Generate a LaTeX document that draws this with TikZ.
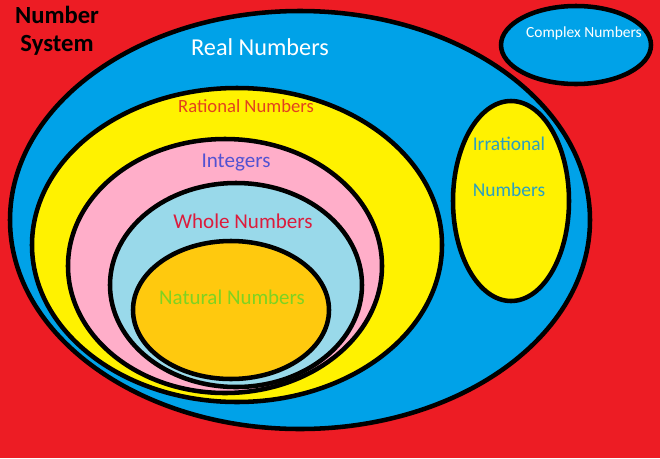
\documentclass[tikz,border=0pt]{standalone}
\usepackage{fontspec}
\setmainfont{Carlito}
\definecolor{bgred}{HTML}{ED1C24}
\definecolor{realblue}{HTML}{00A2E8}
\definecolor{ratyellow}{HTML}{FFF200}
\definecolor{intpink}{HTML}{FFAEC9}
\definecolor{wholeblue}{HTML}{99D9EA}
\definecolor{natorange}{HTML}{FFC90E}
\definecolor{rattext}{HTML}{E2421E}
\definecolor{inttext}{HTML}{5252D2}
\definecolor{wholetext}{HTML}{DC1C3C}
\definecolor{nattext}{HTML}{7ED321}
\definecolor{irrtext}{HTML}{2A9FC0}
\tikzset{
  numset/.style={draw=black,line width=3.4pt},
  setlabel/.style={inner sep=0pt,anchor=center}
}
\begin{document}
\begin{tikzpicture}[x=0.75pt,y=-0.75pt]
			\useasboundingbox (0,0) rectangle (660,458);
			\fill[bgred] (0,0) rectangle (660,458);
			% sets
			\draw[numset,fill=realblue] (300,220) ellipse [x radius=290,y radius=209];
			\draw[numset,fill=realblue] (576,45) ellipse [x radius=75,y radius=39];
			\draw[numset,fill=ratyellow] (237,245) ellipse [x radius=205,y radius=157];
			\draw[numset,fill=intpink] (225,266) ellipse [x radius=157,y radius=127];
			\draw[numset,fill=wholeblue] (236,285) ellipse [x radius=126,y radius=102];
			\draw[numset,fill=natorange] (231,310) ellipse [x radius=98,y radius=69];
			\draw[numset,fill=ratyellow] (511,201) ellipse [x radius=58,y radius=100];
			% labels
			\node[setlabel,align=center,font=\fontsize{18.5}{21}\selectfont\bfseries] (sys) at (57,31) {Number\\System};
			\node[setlabel,white,font=\fontsize{18.2}{21}\selectfont] (real) at (260,47) {Real Numbers};
			\node[setlabel,white,font=\fontsize{11.6}{14}\selectfont] (cplx) at (584,33) {Complex Numbers};
			\node[setlabel,rattext,font=\fontsize{14}{17}\selectfont] (rat) at (246,106) {Rational Numbers};
			\node[setlabel,inttext,font=\fontsize{15.8}{19}\selectfont] (int) at (236,163) {Integers};
			\node[setlabel,wholetext,font=\fontsize{15.8}{19}\selectfont] (whole) at (243,221) {Whole Numbers};
			\node[setlabel,nattext,font=\fontsize{15.7}{19}\selectfont] (nat) at (232,297) {Natural Numbers};
			\node[setlabel,irrtext,font=\fontsize{14.6}{17}\selectfont] (irr) at (509,144) {Irrational};
			\node[setlabel,irrtext,font=\fontsize{14.6}{17}\selectfont] (irrb) at (509,190) {Numbers};
		\end{tikzpicture}
\end{document}
